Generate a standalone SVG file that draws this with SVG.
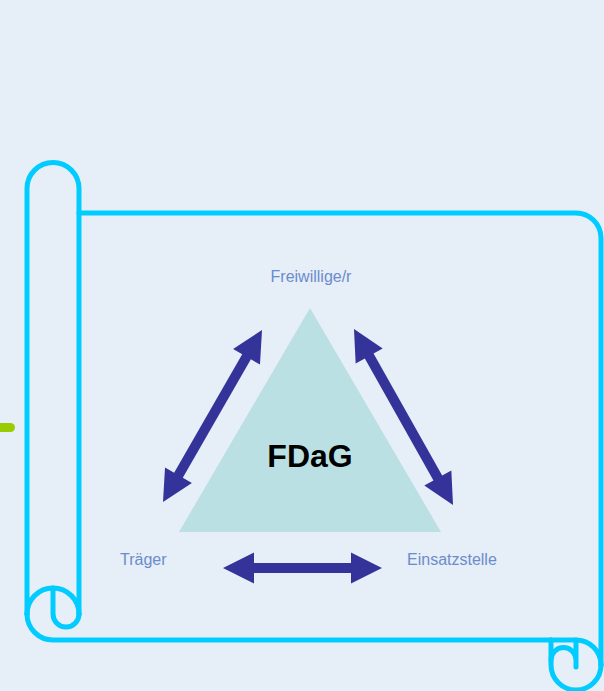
<svg xmlns="http://www.w3.org/2000/svg" width="604" height="691" viewBox="0 0 604 691">
  <style>
    .scroll { fill: none; stroke: #00CCFF; stroke-width: 5; stroke-linecap: round; stroke-linejoin: round; }
    .arrow { fill: #333399; }
    .label { font-family: "Liberation Sans", Arial, sans-serif; font-size: 16px; fill: #6B8CCB; }
    .title { font-family: "Liberation Sans", Arial, sans-serif; font-size: 32px; font-weight: bold; fill: #000000; }
  </style>
  <rect x="0" y="0" width="604" height="691" fill="#E6EEF8"/>
  <g id="scroll">
    <path class="scroll" d="M27,614 V188.5 A26,26 0 0 1 79,188.5 V614"/>
    <path class="scroll" d="M27,614 A26,26 0 0 1 79,614"/>
    <path class="scroll" d="M53,588 V614 A13,13 0 0 0 79,614"/>
    <path class="scroll" d="M27,614 A26,26 0 0 0 53,640 H551"/>
    <path class="scroll" d="M79,213 H576 A25,25 0 0 1 601,238 V665"/>
    <path class="scroll" d="M551,640 H576 A25,25 0 0 1 601,665"/>
    <path class="scroll" d="M551,640 V665 A25,25 0 0 0 601,665"/>
    <path class="scroll" d="M551,660 A12.5,12.5 0 0 1 576,660 M576,640 V667"/>
  </g>
  <g id="green-mark">
    <line x1="-5" y1="427.5" x2="10.5" y2="427.5" stroke="#99CC00" stroke-width="9" stroke-linecap="round"/>
  </g>
  <g id="fdag">
    <polygon points="310,308 441,532 179,532" fill="#BAE0E3"/>
    <text class="title" x="310" y="467" text-anchor="middle">FDaG</text>
  </g>
  <g id="freiwillige">
    <text class="label" x="311" y="282" text-anchor="middle">Freiwillige/r</text>
  </g>
  <g id="traeger">
    <text class="label" x="120" y="565">Träger</text>
  </g>
  <g id="einsatzstelle">
    <text class="label" x="407" y="565">Einsatzstelle</text>
  </g>
  <g id="connectors">
    <polygon class="arrow" transform="translate(212.5 416) rotate(-60.08)" points="-99.25,0 -68.25,-15.5 -68.25,-5 68.25,-5 68.25,-15.5 99.25,0 68.25,15.5 68.25,5 -68.25,5 -68.25,15.5"/>
    <polygon class="arrow" transform="translate(403.5 417) rotate(60.64)" points="-101,0 -70,-15.5 -70,-5 70,-5 70,-15.5 101,0 70,15.5 70,5 -70,5 -70,15.5"/>
    <polygon class="arrow" points="223,568 254,552.5 254,563 351,563 351,552.5 382,568 351,583.5 351,573 254,573 254,583.5"/>
  </g>
</svg>
